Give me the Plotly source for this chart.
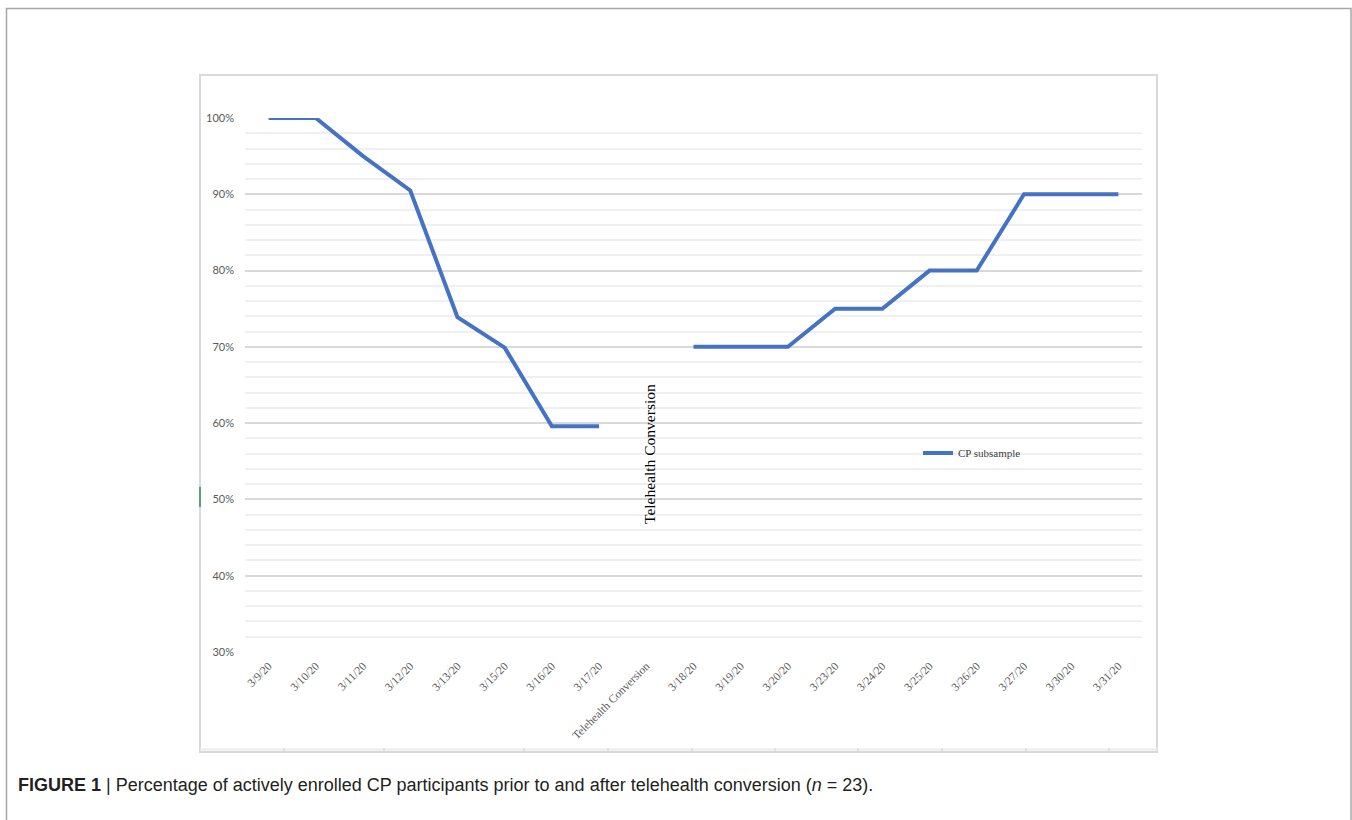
import plotly.graph_objects as go

categories = ["3/9/20", "3/10/20", "3/11/20", "3/12/20", "3/13/20", "3/15/20", "3/16/20",
              "3/17/20", "Telehealth Conversion", "3/18/20", "3/19/20", "3/20/20", "3/23/20",
              "3/24/20", "3/25/20", "3/26/20", "3/27/20", "3/30/20", "3/31/20"]
cp_subsample = [100, 100, 95.0, 90.5, 73.9, 69.9, 59.6, 59.6, None, 70, 70, 70, 75, 75,
                80, 80, 90, 90, 90]
y_ticks = [30, 40, 50, 60, 70, 80, 90, 100]
y_tick_labels = ["30%", "40%", "50%", "60%", "70%", "80%", "90%", "100%"]
divider_label = "Telehealth Conversion"
divider_y = 56
series_name = "CP subsample"
caption = ("<b>FIGURE 1</b> | Percentage of actively enrolled CP participants prior to and "
           "after telehealth conversion (<i>n</i> = 23).")

W, H = 1352, 820
L, R, T, B = 245, 210, 118, 168


def px_x(p):
    return (p - L) / (W - L - R)


def px_y(p):
    return (H - B - p) / (H - T - B)


fig = go.Figure()
fig.add_trace(go.Scatter(
    x=categories, y=cp_subsample, mode="lines", name=series_name,
    line=dict(color="#4472C4", width=4), connectgaps=False, hoverinfo="x+y",
))

shapes = [
    # outer figure frame
    dict(type="rect", xref="paper", yref="paper", x0=px_x(6.5), x1=px_x(1351), y0=px_y(840),
         y1=px_y(8.5), line=dict(color="#a6a6a6", width=1.5), layer="below"),
    # chart box
    dict(type="rect", xref="paper", yref="paper", x0=px_x(200), x1=px_x(1157), y0=px_y(752),
         y1=px_y(75), line=dict(color="#d9d9d9", width=2), layer="below"),
    dict(type="line", xref="paper", yref="paper", x0=px_x(200), x1=px_x(1157), y0=px_y(749.5),
         y1=px_y(749.5), line=dict(color="#ececec", width=2), layer="below"),
    # small green mark on the left edge
    dict(type="line", xref="paper", yref="paper", x0=px_x(200), x1=px_x(200), y0=px_y(487),
         y1=px_y(507), line=dict(color="#2e8b57", width=1.5)),
]
for tx in [284, 384, 524, 608, 692, 775, 858, 942, 1026, 1109]:
    shapes.append(dict(type="line", xref="paper", yref="paper", x0=px_x(tx), x1=px_x(tx),
                       y0=px_y(748), y1=px_y(752), line=dict(color="#d0d0d0", width=1)))

fig.update_layout(
    width=W, height=H,
    margin=dict(l=L, r=R, t=T, b=B),
    paper_bgcolor="white", plot_bgcolor="white",
    shapes=shapes,
    showlegend=True,
    legend=dict(x=px_x(918), y=px_y(453), xanchor="left", yanchor="middle",
                bgcolor="rgba(0,0,0,0)", borderwidth=0,
                font=dict(family="Liberation Serif", size=11, color="#404040")),
    xaxis=dict(
        type="category", categoryorder="array", categoryarray=categories,
        range=[-0.5, len(categories) - 0.5], showgrid=False, zeroline=False,
        showline=False, ticks="", tickangle=-45, ticklabelstandoff=4,
        tickfont=dict(family="Liberation Serif", size=11.5, color="#595959"),
    ),
    yaxis=dict(
        range=[30, 100], tickvals=y_ticks, ticktext=y_tick_labels, showgrid=True,
        gridcolor="#d9d9d9", gridwidth=1.5, zeroline=False, showline=False, ticks="",
        ticklabelstandoff=10,
        tickfont=dict(family="Lato, Liberation Sans", size=11, color="#595959"),
        minor=dict(dtick=2, tick0=30, showgrid=True, gridcolor="#f0f0f0", gridwidth=1.5),
    ),
    annotations=[
        dict(x=divider_label, y=divider_y, xref="x", yref="y", text=divider_label,
             textangle=-90, showarrow=False, xshift=3,
             font=dict(family="Liberation Serif", size=15.5, color="#000000")),
        dict(x=px_x(16), y=px_y(785), xref="paper", yref="paper", text=caption,
             showarrow=False, xanchor="left", yanchor="middle",
             font=dict(family="Liberation Sans Narrow, Liberation Sans", size=18,
                       color="#231f20")),
    ],
)

fig.write_html("out.html")
